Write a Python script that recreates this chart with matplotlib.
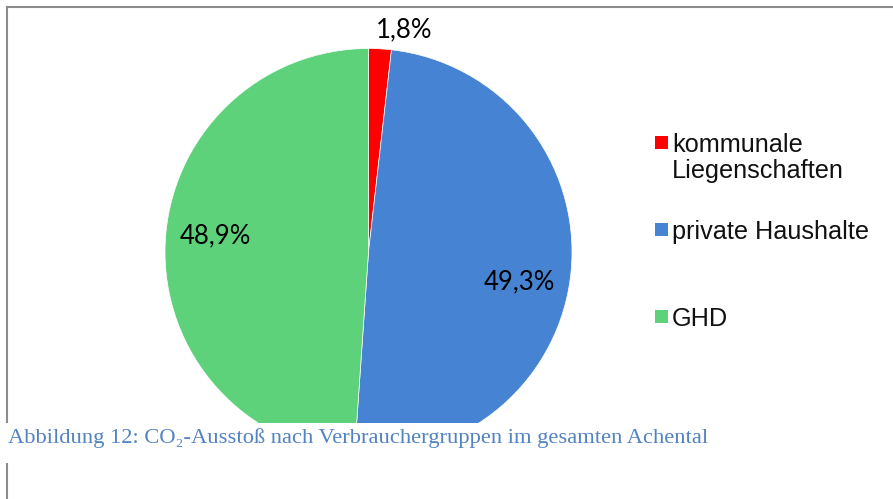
import matplotlib
matplotlib.use("Agg")
import matplotlib.pyplot as plt
import numpy as np
from matplotlib.patches import Rectangle
from matplotlib.lines import Line2D

# data
categories = ["kommunale\nLiegenschaften", "private Haushalte", "GHD"]
shares = [1.8, 49.3, 48.9]
pct_labels = ["1,8%", "49,3%", "48,9%"]
colors = ["#FF0000", "#4684D3", "#5DD27B"]
caption = "Abbildung 12: CO\u2082-Ausstoß nach Verbrauchergruppen im gesamten Achental"

W, H = 893, 499
fig = plt.figure(figsize=(W / 100, H / 100), dpi=100)


def fx(px):
    return px / W


def fy(py):  # py measured from the top
    return 1 - py / H


# pie area: centre (368.5, 252), radius 203.5 px
cx, cy, r = 368.5, 252, 203.5
ax = fig.add_axes([fx(cx - r), fy(cy + r), 2 * r / W, 2 * r / H])
wedges, _ = ax.pie(
    shares,
    colors=colors,
    startangle=90,
    counterclock=False,
    radius=1,
    wedgeprops=dict(edgecolor="white", linewidth=0.5),
)
ax.set_xlim(-1, 1)
ax.set_ylim(-1, 1)
ax.set_aspect("auto")
ax.axis("off")

# percentage labels, placed relative to each wedge's middle angle
label_dist = [1.105, 0.754, 0.754]
label_dang = [-6, -6, -4]
for w, txt, d, da in zip(wedges, pct_labels, label_dist, label_dang):
    ang = np.deg2rad((w.theta1 + w.theta2) / 2 + da)
    ax.text(d * np.cos(ang), d * np.sin(ang), txt, ha="center", va="center",
            fontsize=18.5, family=["Lato", "DejaVu Sans"], color="black", clip_on=False)

# frame lines
fig.add_artist(Line2D([fx(7), fx(W)], [fy(7), fy(7)], color="#8c8c8c", lw=1.5, zorder=1))
fig.add_artist(Line2D([fx(7), fx(7)], [fy(7), fy(H)], color="#8c8c8c", lw=1.5, zorder=1))

# legend
leg_y = [142, 229.5, 316.5]
for cat, col, y in zip(categories, colors, leg_y):
    fig.add_artist(Rectangle((fx(655), fy(y + 6.5)), 13 / W, 13 / H,
                             facecolor=col, edgecolor="none", zorder=3))
    fig.text(fx(672), fy(y - 9), cat, ha="left", va="top", fontsize=18.2,
             family="Liberation Sans", color="#111111", linespacing=1.12, zorder=3)

# white caption band hiding the bottom of the pie
fig.add_artist(Rectangle((0, fy(463)), 1, 40 / H, facecolor="white",
                         edgecolor="none", zorder=5))
fig.text(fx(8), fy(443), caption, ha="left", va="baseline", fontsize=16.2,
         family=["Liberation Serif", "DejaVu Serif"], color="#5283C2", zorder=6)

fig.savefig("out.png", dpi=100)
